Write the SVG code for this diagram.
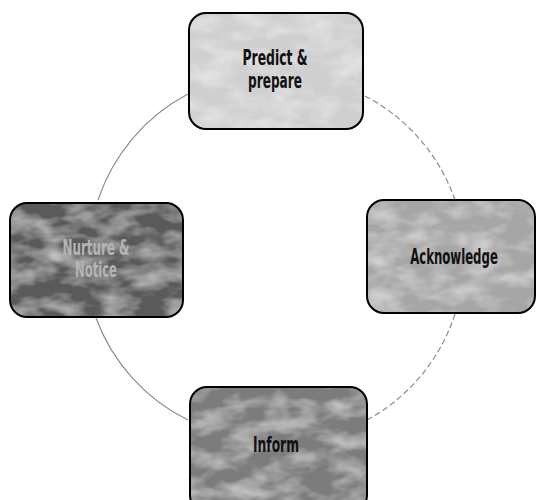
<svg xmlns="http://www.w3.org/2000/svg" width="538" height="500" viewBox="0 0 538 500">
<style>
.lbl{font-family:"Liberation Sans Narrow","DejaVu Sans Condensed","Liberation Sans",sans-serif;font-weight:bold;font-size:21px;text-anchor:middle}
.ring{fill:none;stroke:#8c8c8c;stroke-width:1.2}
.edge{fill:none;stroke:#000;stroke-width:2}
</style>
<defs>
<filter id="tex" x="0" y="0" width="100%" height="100%">
<feTurbulence type="fractalNoise" baseFrequency="0.03 0.06" numOctaves="3" seed="4" result="n"/>
<feColorMatrix in="n" type="matrix" values="0 0 0 0 1  0 0 0 0 1  0 0 0 0 1  0.9 0 0 0 -0.35" result="w"/>
<feComposite in="w" in2="SourceGraphic" operator="atop"/>
</filter>
</defs>
<g id="connectors">
<path class="ring" d="M188,94 A186,186 0 0 0 98,200"/>
<path class="ring" d="M96,318 A186,186 0 0 0 188,420"/>
<path class="ring" d="M365,96 A186,186 0 0 1 455,200" stroke-dasharray="6 3" stroke="#aaa"/>
<path class="ring" d="M455,314 A186,186 0 0 1 367,420" stroke-dasharray="6 3" stroke="#aaa"/>
</g>
<g id="predict">
<rect x="189" y="13" width="174" height="116" rx="17" fill="#cfcfcf" filter="url(#tex)"/>
<rect class="edge" x="189" y="13" width="174" height="116" rx="17"/>
<text class="lbl" x="275" y="65" fill="#111" textLength="65" lengthAdjust="spacingAndGlyphs">Predict &amp;</text>
<text class="lbl" x="275" y="88" fill="#111" textLength="54" lengthAdjust="spacingAndGlyphs">prepare</text>
</g>
<g id="acknowledge">
<rect x="367" y="200" width="168" height="113" rx="17" fill="#a6a6a6" filter="url(#tex)"/>
<rect class="edge" x="367" y="200" width="168" height="113" rx="17"/>
<text class="lbl" x="0" y="0" fill="#111" font-size="20" transform="translate(454,264) scale(0.62,1)">Acknowledge</text>
</g>
<g id="nurture">
<rect x="10" y="203" width="173" height="114" rx="17" fill="#5a5a5a" filter="url(#tex)"/>
<rect class="edge" x="10" y="203" width="173" height="114" rx="17"/>
<text class="lbl" x="96" y="255" fill="#b4b4b4" textLength="67" lengthAdjust="spacingAndGlyphs">Nurture &amp;</text>
<text class="lbl" x="96" y="277" fill="#b4b4b4" textLength="42" lengthAdjust="spacingAndGlyphs">Notice</text>
</g>
<g id="inform">
<rect x="190" y="387" width="177" height="125" rx="17" fill="#7c7c7c" filter="url(#tex)"/>
<rect class="edge" x="190" y="387" width="177" height="125" rx="17"/>
<text class="lbl" x="276" y="452" fill="#111" textLength="46" lengthAdjust="spacingAndGlyphs">Inform</text>
</g>
</svg>
